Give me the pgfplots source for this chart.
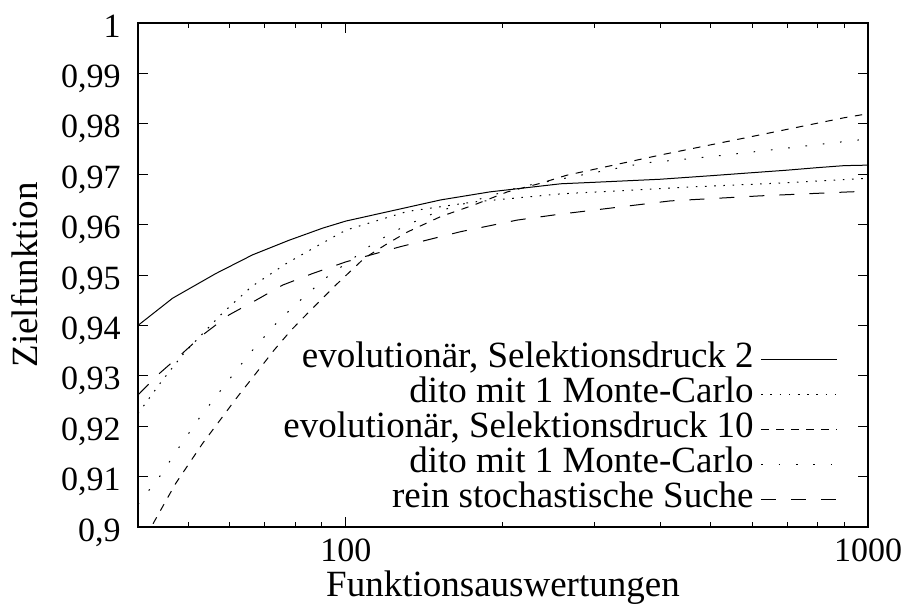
\documentclass[border=0pt]{standalone}
\usepackage{fontspec}
\setmainfont{Liberation Serif}
\usepackage{pgfplots}
\pgfplotsset{compat=1.18}
\begin{document}
\fontsize{18.5}{22}\selectfont
\begin{tikzpicture}
\useasboundingbox (-69pt,-40pt) rectangle (387pt,263.5pt);
\begin{axis}[
  scale only axis, width=365pt, height=252pt,
  xmode=log, xmin=40, xmax=1000, ymin=0.9, ymax=1,
  xtick={100,1000}, xticklabels={100,1000},
  minor xtick={50,60,70,80,90,200,300,400,500,600,700,800,900},
  ytick={0.9,0.91,0.92,0.93,0.94,0.95,0.96,0.97,0.98,0.99,1},
  yticklabels={{0,9},{0,91},{0,92},{0,93},{0,94},{0,95},{0,96},{0,97},{0,98},{0,99},{1}},
  tick align=inside, major tick length=5pt, minor tick length=2.5pt,
  tick pos=both,
  axis line style={line width=0.6pt},
  every tick/.style={black, line width=0.5pt},
  tick label style={font=\fontsize{17}{20}\selectfont},
  yticklabel style={anchor=base east, inner sep=0pt, xshift=-8.5pt, yshift=-7pt},
  xticklabel style={anchor=base, inner sep=0pt, yshift=-17pt},
  xlabel={Funktionsauswertungen}, ylabel={Zielfunktion},
  xlabel style={at={(axis description cs:0.5,-0.138)}, anchor=base},
  ylabel style={at={(axis description cs:-0.155,0.5)}, anchor=center},
  legend plot pos=right,
  legend cell align=right,
  legend image code/.code={\draw[#1] (0pt,0pt) -- (38pt,0pt);},
  legend style={draw=none, fill=none, at={(axis description cs:0.959,0.022)}, anchor=south east,
    inner sep=0pt, row sep=1pt, column sep=3.5pt,
    nodes={inner sep=0pt, text height=12.5pt, text depth=4pt}},
  every axis plot/.append style={black, line width=0.5pt},
]
% evolutionaer, Selektionsdruck 2
\addplot[solid] coordinates {
(40,0.9400) (46.6,0.9454) (56.4,0.9503) (66.3,0.9540) (77.9,0.9569) (90.3,0.9593)
(100,0.9607) (152,0.9649) (189,0.9665) (258,0.9681) (300,0.9684) (400,0.9690)
(500,0.9697) (600,0.9703) (700,0.9708) (800,0.9713) (900,0.9717) (1000,0.9718)};
\addlegendentry{evolutionär, Selektionsdruck 2}
% dito mit 1 Monte-Carlo
\addplot[dash pattern=on 0.8pt off 3.8pt] coordinates {
(40,0.9225) (44.3,0.9288) (49,0.9345) (58,0.9424) (66,0.9477) (77,0.9523) (89,0.9560)
(100,0.9589) (131,0.9626) (176,0.9645) (258,0.9661) (464,0.9675) (700,0.9683) (1000,0.9692)};
\addlegendentry{dito mit 1 Monte-Carlo}
% evolutionaer, Selektionsdruck 10
\addplot[dash pattern=on 3.7pt off 3.8pt] coordinates {
(40,0.8955) (42.4,0.9000) (47.2,0.9086) (53.2,0.9166) (62.1,0.9259) (67.3,0.9305)
(72.9,0.9351) (78.5,0.9390) (84.5,0.9424) (95,0.9477) (108.4,0.9533) (120,0.9562)
(131,0.9585) (152,0.9616) (176,0.9639) (204,0.9665) (236,0.9682) (265,0.9698)
(400,0.9738) (621,0.9778) (900,0.9812) (1000,0.9820)};
\addlegendentry{evolutionär, Selektionsdruck 10}
% dito mit 1 Monte-Carlo
\addplot[dash pattern=on 0.8pt off 7.9pt] coordinates {
(40,0.9045) (44,0.9100) (48,0.9159) (52.4,0.9216) (57.7,0.9272) (62.5,0.9318)
(66.8,0.9355) (74,0.9407) (83.2,0.9457) (92.3,0.9497) (103,0.9532) (113,0.9563)
(129,0.9596) (150,0.9626) (173,0.9645) (216,0.9675) (372,0.9722) (502,0.9735)
(1000,0.9770)};
\addlegendentry{dito mit 1 Monte-Carlo}
% rein stochastische Suche
\addplot[dash pattern=on 7.5pt off 7.5pt] coordinates {
(40,0.9262) (44,0.9305) (48.7,0.9345) (53.2,0.9381) (59.8,0.9421) (67.3,0.9450)
(75.7,0.9480) (86.4,0.9503) (100,0.9526) (127,0.9556) (166,0.9586) (213,0.9609)
(254,0.9620) (418,0.9647) (621,0.9657) (925,0.9665) (1000,0.9666)};
\addlegendentry{rein stochastische Suche}
\end{axis}
\end{tikzpicture}
\end{document}
